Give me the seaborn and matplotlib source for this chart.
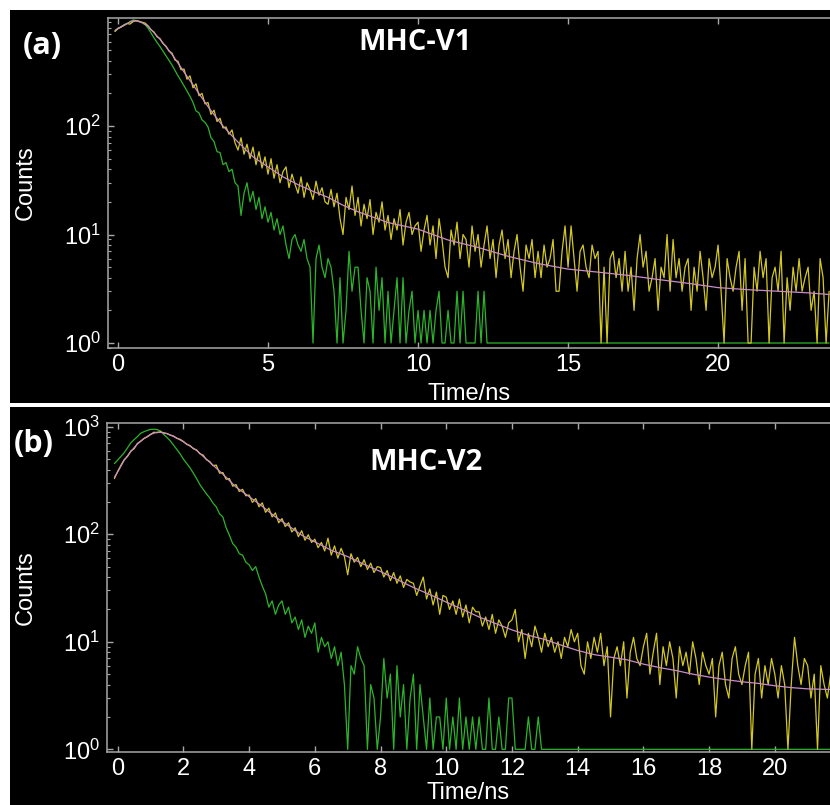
import numpy as np
import pandas as pd
import matplotlib
matplotlib.use("Agg")
import matplotlib.pyplot as plt
from matplotlib.patches import Rectangle
from matplotlib.ticker import LogLocator, NullFormatter, FixedLocator
import seaborn as sns

# ---------------- data ----------------
START_NS = -0.1
STEP_NS = 0.1

# panel (a) MHC-V1 : sample decay (yellow), IRF (green), fit (pink)
YELLOW_A = [
    745, 790, 815, 845, 880, 870, 915, 935, 925, 905, 890,
    840, 770, 735, 665, 640, 575, 545, 490, 470, 405,
    395, 330, 335, 270, 290, 225, 245, 190, 200, 160,
    165, 128, 140, 110, 118, 96, 98, 84, 92, 70,
    60, 78, 55, 68, 50, 64, 44, 58, 41, 52,
    36, 50, 33, 44, 30, 38, 42, 27, 36, 29,
    24, 34, 22, 30, 26, 21, 31, 23, 27, 20,
    19, 26, 18, 24, 14, 10, 22, 17, 28, 15,
    22, 12, 19, 14, 21, 10, 16, 13, 20, 11,
    15, 9, 14, 11, 17, 8, 13, 16, 10, 12,
    13, 7, 11, 15, 8, 12, 6, 14, 9, 5,
    4, 11, 8, 13, 6, 10, 9, 5, 12, 7,
    10, 5, 8, 12, 6, 9, 4, 8, 11, 6,
    9, 4, 7, 10, 5, 3, 8, 6, 9, 4,
    7, 4, 8, 5, 6, 9, 3, 3, 7, 12,
    5, 12, 6, 3, 7, 8, 5, 4, 8, 6,
    7, 1, 5, 1, 6, 7, 4, 6, 3, 7,
    3, 5, 2, 6, 10, 5, 7, 3, 4, 6,
    2, 5, 4, 10, 3, 9, 4, 6, 3, 5,
    6, 2, 5, 3, 7, 4, 2, 6, 4, 5,
    8, 3, 1, 6, 4, 3, 5, 7, 2, 6,
    1, 1, 5, 3, 7, 4, 6, 1, 4, 5,
    3, 7, 1, 4, 2, 5, 3, 6, 3, 4,
    5, 2, 3, 1, 6, 4, 1, 3,
]
GREEN_A = [
    750, 795, 820, 860, 880, 915, 950, 940, 920, 895, 860,
    800, 720, 650, 590, 540, 490, 445, 405, 365, 325,
    290, 262, 235, 210, 188, 165, 138, 132, 114, 108,
    98, 78, 72, 58, 57, 44, 46, 38, 40, 30,
    28, 15, 24, 30, 20, 25, 17, 22, 14, 18,
    13, 16, 11, 14, 10, 12, 8, 6, 9, 10,
    8, 7, 9, 6, 5, 1, 6, 8, 5, 4,
    6, 5, 3, 1, 4, 1, 2, 7, 3, 5,
    5, 2, 1, 4, 3, 1, 5, 2, 4, 1,
    3, 1, 2, 4, 1, 4, 1, 2, 3, 1,
    2, 1, 2, 1, 2, 1, 2, 3, 1, 1,
    2, 1, 1, 3, 1, 3, 1, 1, 1, 1,
    3, 1, 3, 1, 1, 1, 1, 1, 1, 1,
    1, 1, 1, 1, 1, 1, 1, 1, 1, 1,
    1, 1, 1, 1, 1, 1, 1, 1, 1, 1,
    1, 1, 1, 1, 1, 1, 1, 1, 1, 1,
    1, 1, 1, 1, 1, 1, 1, 1, 1, 1,
    1, 1, 1, 1, 1, 1, 1, 1, 1, 1,
    1, 1, 1, 1, 1, 1, 1, 1, 1, 1,
    1, 1, 1, 1, 1, 1, 1, 1, 1, 1,
    1, 1, 1, 1, 1, 1, 1, 1, 1, 1,
    1, 1, 1, 1, 1, 1, 1, 1, 1, 1,
    1, 1, 1, 1, 1, 1, 1, 1, 1, 1,
    1, 1, 1, 1, 1, 1, 1, 1,
]
FIT_A_T = [-0.1, 0.0, 0.2, 0.4, 0.5, 0.6, 0.8, 1.0, 1.2, 1.4, 1.6, 1.8, 2.0,
           2.25, 2.5, 2.75, 3.0, 3.25, 3.5, 3.75, 4.0, 4.5, 5.0, 5.5, 6.0,
           6.5, 7.0, 7.5, 8.0, 9.0, 10.0, 11.0, 12.0, 13.0, 14.0, 15.0,
           16.0, 17.0, 18.0, 19.0, 20.0, 21.0, 22.0, 23.0, 23.7]
FIT_A = [760, 795, 850, 910, 930, 933, 900, 832, 724, 631, 537, 457, 380,
         300, 240, 190, 151, 122, 100, 84, 71, 52, 42, 34, 28.8,
         25, 22, 18.6, 16.2, 12.9, 11.2, 8.9, 7.6, 6.3, 5.4, 4.8,
         4.5, 4.2, 3.85, 3.55, 3.24, 3.1, 3.0, 2.9, 2.8]

# panel (b) MHC-V2
YELLOW_B = [
    330, 385, 440, 495, 530, 595, 625, 700, 735, 780, 805,
    845, 890, 880, 900, 875, 865, 835, 820, 780, 765,
    730, 685, 670, 625, 610, 560, 545, 495, 475, 435,
    440, 370, 375, 325, 330, 280, 290, 250, 262, 228,
    232, 198, 215, 180, 196, 160, 175, 145, 158, 128,
    140, 118, 128, 105, 115, 95, 108, 88, 99, 84,
    90, 75, 84, 70, 92, 64, 78, 60, 74, 62,
    42, 66, 55, 61, 50, 58, 47, 54, 44, 50,
    49, 40, 46, 37, 44, 35, 41, 32, 38, 36,
    35, 27, 33, 40, 25, 31, 22, 29, 18, 27,
    26, 20, 24, 18, 25, 17, 22, 15, 21, 19,
    19, 14, 17, 13, 18, 12, 16, 14, 11, 15,
    16, 20, 10, 13, 7, 12, 9, 14, 11, 8,
    12, 9, 11, 8, 10, 7, 11, 9, 13, 10,
    12, 6, 5, 10, 7, 11, 8, 12, 6, 9,
    2, 7, 9, 6, 10, 3, 8, 11, 7, 6,
    9, 12, 5, 8, 12, 4, 9, 6, 10, 7,
    3, 9, 6, 8, 5, 10, 7, 4, 8, 6,
    5, 7, 2, 6, 8, 4, 3, 7, 9, 5,
    4, 6, 8, 1, 5, 7, 3, 6, 4, 7,
    5, 3, 6, 4, 1, 4, 11, 6, 4, 7,
    6, 3, 5, 1, 6, 4, 3, 5,
]
GREEN_B = [
    455, 490, 530, 575, 640, 710, 760, 810, 870, 900, 925,
    945, 950, 940, 915, 850, 795, 740, 675, 615, 560,
    500, 455, 415, 372, 330, 290, 262, 238, 218, 195,
    180, 155, 145, 115, 98, 82, 76, 66, 64, 55,
    52, 46, 50, 40, 33, 28, 21, 24, 18, 22,
    24, 18, 21, 15, 17, 13, 16, 11, 14, 12,
    15, 8, 11, 9, 10, 7, 9, 6, 8, 4,
    1, 6, 5, 9, 7, 6, 1, 4, 3, 1,
    2, 7, 3, 5, 1, 6, 2, 4, 1, 3,
    5, 1, 4, 2, 1, 3, 1, 2, 2, 1,
    3, 1, 2, 1, 3, 1, 2, 1, 2, 1,
    2, 1, 1, 3, 1, 1, 2, 1, 1, 3,
    3, 1, 1, 1, 1, 2, 1, 1, 2, 1,
    1, 1, 1, 1, 1, 1, 1, 1, 1, 1,
    1, 1, 1, 1, 1, 1, 1, 1, 1, 1,
    1, 1, 1, 1, 1, 1, 1, 1, 1, 1,
    1, 1, 1, 1, 1, 1, 1, 1, 1, 1,
    1, 1, 1, 1, 1, 1, 1, 1, 1, 1,
    1, 1, 1, 1, 1, 1, 1, 1, 1, 1,
    1, 1, 1, 1, 1, 1, 1, 1, 1, 1,
    1, 1, 1, 1, 1, 1, 1, 1, 1, 1,
    1, 1, 1, 1, 1, 1, 1, 1,
]
FIT_B_T = [-0.1, 0.0, 0.2, 0.4, 0.6, 0.8, 1.0, 1.2, 1.4, 1.6, 1.8, 2.0, 2.4,
           2.8, 3.2, 3.6, 4.0, 4.4, 4.8, 5.2, 5.6, 6.0, 6.5, 7.0, 7.5, 8.0,
           8.5, 9.0, 9.5, 10.0, 10.5, 11.0, 11.5, 12.0, 12.5, 13.0, 13.5,
           14.0, 14.5, 15.0, 15.5, 16.0, 16.5, 17.0, 17.5, 18.0, 18.5,
           19.0, 19.5, 20.0, 20.5, 21.0, 21.7]
FIT_B = [339, 380, 490, 589, 692, 776, 851, 891, 881, 841, 785, 724, 603,
         468, 363, 275, 224, 182, 145, 120, 98, 85, 71, 62, 52.5, 45,
         38, 32, 27.5, 23.4, 20, 17, 14.8, 12.9, 11.5, 10.5, 9.3,
         8.3, 7.6, 7.2, 6.8, 6.2, 5.75, 5.4, 5.0, 4.7, 4.45,
         4.25, 4.1, 3.9, 3.75, 3.65, 3.6]

X_TICKS_A = [0, 5, 10, 15, 20]
X_TICKS_B = [0, 2, 4, 6, 8, 10, 12, 14, 16, 18, 20]
TITLES = ["MHC-V1", "MHC-V2"]
PANEL_TAGS = ["(a)", "(b)"]

YELLOW = "#d4c823"
GREEN = "#2cb52a"
PINK = "#c98ccb"
SPINE = "#a8a8a8"

# ---------------- style ----------------
sns.set_style("dark", {"axes.facecolor": "black", "figure.facecolor": "white"})
plt.rcParams["font.family"] = ["Liberation Sans", "DejaVu Sans"]

W, H = 830, 805
fig = plt.figure(figsize=(W / 100, H / 100), dpi=100, facecolor="white")


def fx(px):
    return px / W


def fy(py):
    return 1 - py / H


# black panel backgrounds
for top, bottom in [(10, 403), (407, 806)]:
    fig.add_artist(Rectangle((fx(10), fy(bottom)), fx(830) - fx(10), fy(top) - fy(bottom),
                             transform=fig.transFigure, facecolor="black",
                             edgecolor="none", zorder=0))


def make_df(times, values):
    return pd.DataFrame({"time": times, "counts": values})


def series_time(vals):
    return START_NS + STEP_NS * np.arange(len(vals))


panels = [
    dict(rect=(108, 18, 830, 348), xlim=(-0.333, 23.73), ylim=(10 ** -0.046, 990),
         yellow=YELLOW_A, green=GREEN_A, fit_t=FIT_A_T, fit=FIT_A, xt=X_TICKS_A,
         title_xy=(415, 42.5), tag_xy=(42, 46), xlab_y=-0.105),
    dict(rect=(107, 423, 830, 752), xlim=(-0.326, 21.68), ylim=(10 ** -0.025, 1084),
         yellow=YELLOW_B, green=GREEN_B, fit_t=FIT_B_T, fit=FIT_B, xt=X_TICKS_B,
         title_xy=(426, 462.5), tag_xy=(34, 444), xlab_y=-0.092),
]

for i, p in enumerate(panels):
    l, t, r, b = p["rect"]
    ax = fig.add_axes([fx(l), fy(b), fx(r) - fx(l), fy(t) - fy(b)])
    ax.set_facecolor("black")
    ax.set_yscale("log")

    sns.lineplot(data=make_df(series_time(p["green"]), p["green"]), x="time", y="counts",
                 ax=ax, color=GREEN, linewidth=0.9, estimator=None, sort=False)
    sns.lineplot(data=make_df(series_time(p["yellow"]), p["yellow"]), x="time", y="counts",
                 ax=ax, color=YELLOW, linewidth=0.9, estimator=None, sort=False)
    sns.lineplot(data=make_df(p["fit_t"], p["fit"]), x="time", y="counts",
                 ax=ax, color=PINK, linewidth=0.9, estimator=None, sort=False)

    ax.set_xlim(*p["xlim"])
    ax.set_ylim(*p["ylim"])
    ax.xaxis.set_major_locator(FixedLocator(p["xt"]))
    ax.yaxis.set_major_locator(LogLocator(base=10))
    ax.yaxis.set_minor_locator(LogLocator(base=10, subs=np.arange(2, 10)))
    ax.yaxis.set_minor_formatter(NullFormatter())
    ax.grid(False)

    for side in ["left", "top", "bottom"]:
        ax.spines[side].set_visible(True)
        ax.spines[side].set_color(SPINE)
        ax.spines[side].set_linewidth(1.1)
    ax.spines["right"].set_visible(False)

    ax.tick_params(axis="both", which="both", direction="in", top=True, right=False,
                   bottom=True, left=True, color=SPINE, labelcolor="white")
    ax.tick_params(axis="both", which="major", length=4, width=1, labelsize=17)
    ax.tick_params(axis="both", which="minor", length=2.5, width=0.8)
    ax.tick_params(axis="x", pad=4)
    ax.tick_params(axis="y", pad=5)

    ax.set_xlabel("Time/ns", color="white", fontsize=17)
    ax.set_ylabel("Counts", color="white", fontsize=17)
    ax.xaxis.set_label_coords(0.5, p["xlab_y"])
    ax.yaxis.set_label_coords((37 - l) / (r - l), 0.5)

    fig.text(fx(p["title_xy"][0]), fy(p["title_xy"][1]), TITLES[i], color="white",
             fontsize=21, fontweight="bold", family="Open Sans", ha="center", va="center")
    fig.text(fx(p["tag_xy"][0]), fy(p["tag_xy"][1]), PANEL_TAGS[i], color="white",
             fontsize=22, fontweight="bold", family="Open Sans", ha="center", va="center")

fig.savefig("out.png", dpi=100, facecolor="white")
